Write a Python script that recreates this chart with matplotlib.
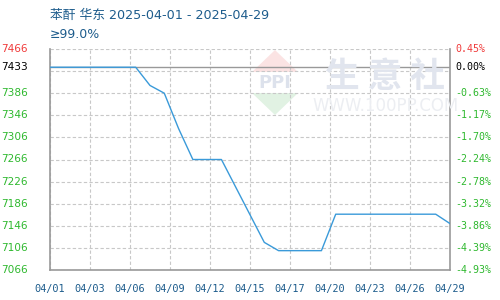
import matplotlib
matplotlib.use("Agg")
import matplotlib.pyplot as plt
import numpy as np
from matplotlib.patches import Polygon

# ---- data ----
dates = ["04/%02d" % d for d in range(1, 30)]
values = [7433, 7433, 7433, 7433, 7433, 7433, 7433, 7400, 7386, 7322,
          7266, 7266, 7266, 7216, 7166, 7116, 7101, 7101, 7101, 7101,
          7167, 7167, 7167, 7167, 7167, 7167, 7167, 7167, 7150]
tick_labels = ["04/01", "04/03", "04/06", "04/09", "04/12", "04/15",
               "04/17", "04/20", "04/23", "04/26", "04/29"]
left_labels = ["7466", "7433", "7386", "7346", "7306", "7266", "7226",
               "7186", "7146", "7106", "7066"]
right_labels = ["0.45%", "0.00%", "-0.63%", "-1.17%", "-1.70%", "-2.24%",
                "-2.78%", "-3.32%", "-3.86%", "-4.39%", "-4.93%"]
label_values = [7466, 7433, 7386, 7346, 7306, 7266, 7226, 7186, 7146, 7106, 7066]
y_min, y_max = 7066, 7466
base = 7433
title = "苯酐 华东 2025-04-01 - 2025-04-29"
subtitle = "≥99.0%"

RED = "#f03a3a"
GREEN = "#2eb82e"
BLUE_TXT = "#1d5c8c"
LINE = "#3a9ad9"
GRID = "#c8c8c8"
AX = "#999999"

fig = plt.figure(figsize=(5, 3), dpi=100)
ax = fig.add_axes([50 / 500, 1 - 270 / 300, 400 / 500, 221 / 300])
n = len(values)
x = np.arange(n)

ax.set_xlim(0, n - 1)
ax.set_ylim(y_min, y_max)

# watermark
wm = dict(transform=fig.transFigure, zorder=0)
ax.add_patch(Polygon([[252 / 500, 1 - 72 / 300], [298 / 500, 1 - 72 / 300], [275 / 500, 1 - 50 / 300]],
                     closed=True, facecolor="#fbe3e3", edgecolor="none", **wm))
ax.add_patch(Polygon([[252 / 500, 1 - 93 / 300], [298 / 500, 1 - 93 / 300], [275 / 500, 1 - 115 / 300]],
                     closed=True, facecolor="#e1f2e3", edgecolor="none", **wm))
fig.text(275 / 500, 1 - 83 / 300, "PPI", color="#dde2ec", fontsize=13, fontweight="bold",
         ha="center", va="center", family="DejaVu Sans", zorder=0)
fig.text(385 / 500, 1 - 77 / 300, "生 意 社", color="#e1e5ee", fontsize=25, fontweight="bold",
         ha="center", va="center", family=["Noto Sans CJK SC"], zorder=0)
fig.text(386 / 500, 1 - 106 / 300, "WWW.100PP.COM", color="#eceef2", fontsize=12,
         ha="center", va="center", family="DejaVu Sans", zorder=0)

# grid
for k in range(11):
    ax.axhline(y_min + 40 * k, color=GRID, lw=0.8, ls=(0, (3, 2)), zorder=1)
xt = np.linspace(0, n - 1, len(tick_labels))
for xv in xt:
    ax.axvline(xv, color=GRID, lw=0.8, ls=(0, (3, 2)), zorder=1)
ax.axhline(base, color=AX, lw=1.0, zorder=2)

ax.plot(x, values, color=LINE, lw=1.0, zorder=3)

for s in ["left", "bottom", "right"]:
    ax.spines[s].set_color(AX)
    ax.spines[s].set_linewidth(1.2)
ax.spines["top"].set_visible(False)
ax.patch.set_alpha(0)

ax.set_xticks(xt)
ax.set_xticklabels(tick_labels, family="DejaVu Sans Mono", fontsize=7.4, color=BLUE_TXT)
ax.tick_params(axis="x", length=0, pad=10)
ax.set_yticks([])

tr = ax.get_yaxis_transform()
for i, (v, l, r) in enumerate(zip(label_values, left_labels, right_labels)):
    c = RED if i == 0 else ("black" if i == 1 else GREEN)
    ax.text(-22 / 400, v, l, transform=tr, ha="right", va="center", color=c,
            family="DejaVu Sans", fontsize=7.6)
    ax.text(1 + 5 / 400, v, r, transform=tr, ha="left", va="center", color=c,
            family="DejaVu Sans Mono", fontsize=7.2)

fig.text(50 / 500, 1 - 15 / 300, title, color=BLUE_TXT, fontsize=9.2, va="center", ha="left",
         family=["DejaVu Sans", "Noto Sans CJK SC"])
fig.text(50 / 500, 1 - 35 / 300, subtitle, color=BLUE_TXT, fontsize=9.0, va="center", ha="left",
         family=["DejaVu Sans", "Noto Sans CJK SC"])

fig.savefig("out.png", dpi=100)
